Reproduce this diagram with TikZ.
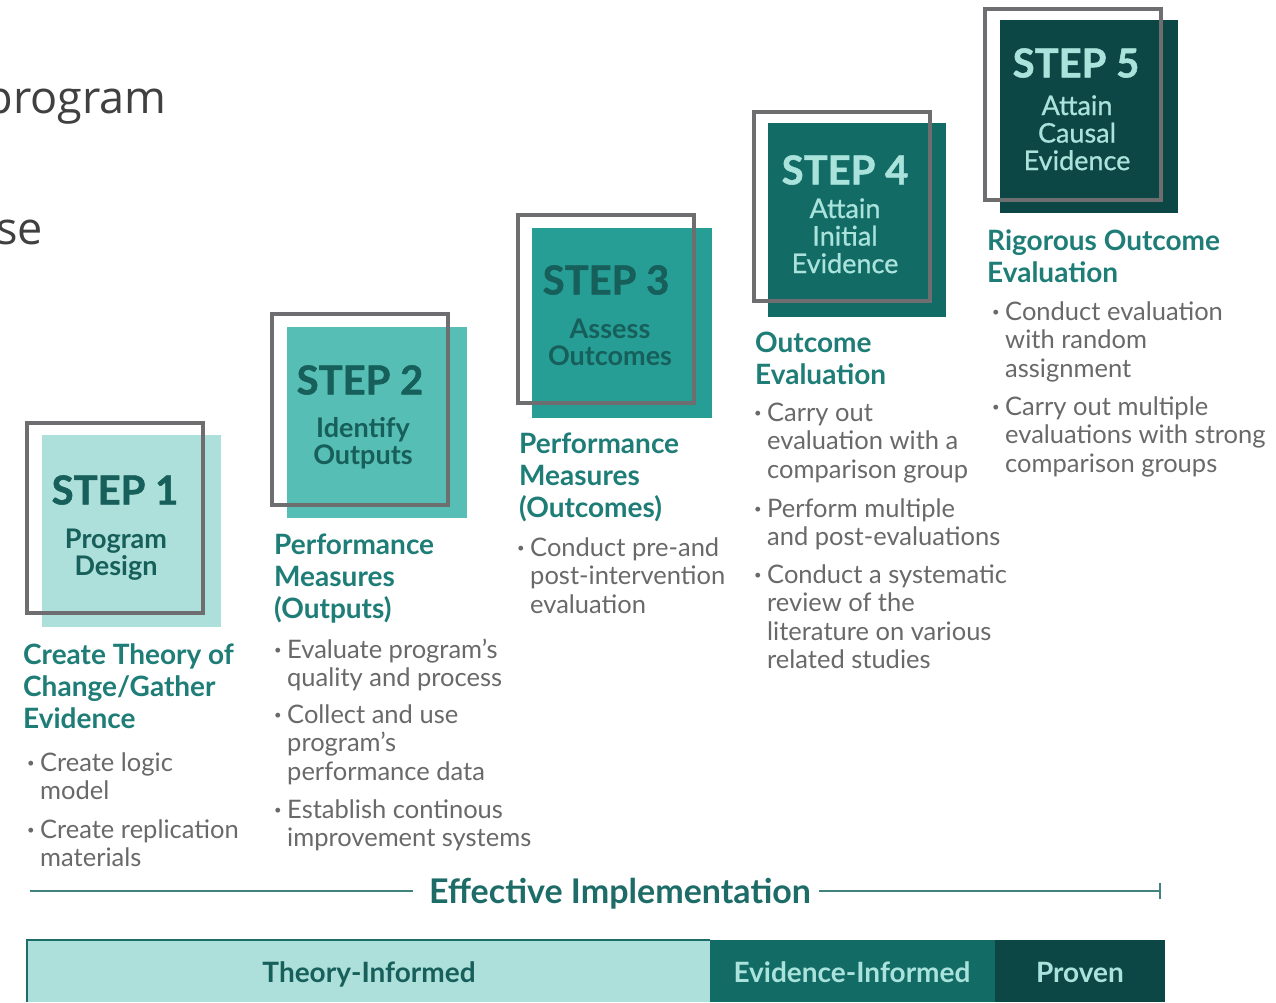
\documentclass[tikz,border=0pt]{standalone}
\usepackage{fontspec}
\setmainfont{Lato}
\newfontfamily\osans{Open Sans}
\newfontfamily\titlefont{Lato}[BoldFeatures={FakeBold=1.2}]
\newfontfamily\subfont{Lato}[FakeBold=0.8]
\definecolor{cA}{RGB}{173,223,219}
\definecolor{cB}{RGB}{87,190,182}
\definecolor{cC}{RGB}{38,158,150}
\definecolor{cD}{RGB}{19,107,102}
\definecolor{cE}{RGB}{13,71,69}
\definecolor{framegray}{RGB}{110,110,112}
\definecolor{darktxt}{RGB}{22,95,90}
\definecolor{lighttxt}{RGB}{170,226,220}
\definecolor{headtxt}{RGB}{30,125,118}
\definecolor{bodytxt}{RGB}{105,105,105}
\definecolor{efftxt}{RGB}{30,108,103}
\definecolor{toptxt}{RGB}{64,64,64}
\newcommand{\bitem}[1]{\begin{tabular}[t]{@{}p{13pt}@{}l@{}}\raisebox{4pt}{\fontsize{13}{13}\selectfont\textbullet}&#1\end{tabular}}
\newcommand{\tleft}[1]{\begin{tabular}[t]{@{}l@{}}#1\end{tabular}}
\newcommand{\tcent}[1]{\begin{tabular}[t]{@{}c@{}}#1\end{tabular}}
\begin{document}
\begin{tikzpicture}[x=1pt,y=-1pt,
  frame/.style={draw=framegray,line width=4.5pt},
  steptitle/.style={inner sep=0pt,font=\titlefont\fontsize{40}{40}\selectfont\bfseries},
  stepsub/.style={inner sep=0pt,anchor=base,font=\fontsize{27}{26}\selectfont\bfseries},
  stepsubl/.style={inner sep=0pt,anchor=base,font=\subfont\fontsize{27}{25.5}\selectfont},
  heading/.style={inner sep=0pt,anchor=base west,text=headtxt,font=\fontsize{28}{32}\selectfont\bfseries},
  bullets/.style={inner sep=0pt,anchor=base west,text=bodytxt,font=\fontsize{25.5}{28.5}\selectfont},
  bartxt/.style={inner sep=0pt,anchor=base,font=\fontsize{28}{28}\selectfont\bfseries},
  effline/.style={draw=efftxt!85,line width=2pt}]
\useasboundingbox (0,0) rectangle (1276,1002);
\fill[white] (0,0) rectangle (1276,1002);
% top-left text fragments
\node[inner sep=0pt,anchor=base east,text=toptxt,font=\osans\fontsize{45}{45}\selectfont] (tp1) at (167,113) {program};
\node[inner sep=0pt,anchor=base east,text=toptxt,font=\osans\fontsize{45}{45}\selectfont] (tp2) at (43,244) {se};
% STEP 1
\fill[cA] (42,435) rectangle (221,627);
\draw[frame] (27,423) rectangle (203,613);
\node[steptitle,text=darktxt] (s1t) at (115,490) {STEP 1};
\node[stepsub,text=darktxt] (s1s) at (116,548) {\tcent{Program\\Design}};
% STEP 2
\fill[cB] (287,327) rectangle (467,518);
\draw[frame] (272,314) rectangle (448,505);
\node[steptitle,text=darktxt] (s2t) at (360,380) {STEP 2};
\node[stepsub,text=darktxt] (s2s) at (363,437) {\tcent{Identify\\Outputs}};
% STEP 3
\fill[cC] (532,228) rectangle (712,418);
\draw[frame] (518,215) rectangle (694,403);
\node[steptitle,text=darktxt] (s3t) at (606,280) {STEP 3};
\node[stepsub,text=darktxt] (s3s) at (610,338) {\tcent{Assess\\Outcomes}};
% STEP 4
\fill[cD] (768,123) rectangle (946,317);
\draw[frame] (754,112) rectangle (930,301);
\node[steptitle,text=lighttxt] (s4t) at (845,170) {STEP 4};
\node[stepsubl,text=lighttxt] (s4s) at (845,218) {\tcent{Attain\\Initial\\Evidence}};
% STEP 5
\fill[cE] (1000,20) rectangle (1178,213);
\draw[frame] (985,9) rectangle (1161,200);
\node[steptitle,text=lighttxt] (s5t) at (1076,63) {STEP 5};
\node[stepsubl,text=lighttxt] (s5s) at (1077,115) {\tcent{Attain\\Causal\\Evidence}};
% headings
\node[heading] (h1) at (23,664) {\tleft{Create Theory of\\Change/Gather\\Evidence}};
\node[heading] (h2) at (274,554) {\tleft{Performance\\Measures\\(Outputs)}};
\node[heading] (h3) at (519,453) {\tleft{Performance\\Measures\\(Outcomes)}};
\node[heading] (h4) at (755,352) {\tleft{Outcome\\Evaluation}};
\node[heading] (h5) at (987,250) {\tleft{Rigorous Outcome\\Evaluation}};
% bullets
\node[bullets] (b11) at (27,771) {\bitem{Create logic\\ & model}};
\node[bullets] (b12) at (27,838) {\bitem{Create replication\\ & materials}};
\node[bullets] (b21) at (274,658) {\bitem{Evaluate program’s\\ & quality and process}};
\node[bullets] (b22) at (274,723) {\bitem{Collect and use\\ & program’s\\ & performance data}};
\node[bullets] (b23) at (274,818) {\bitem{Establish continous\\ & improvement systems}};
\node[bullets] (b31) at (517,556) {\bitem{Conduct pre-and\\ & post-intervention\\ & evaluation}};
\node[bullets] (b41) at (754,421) {\bitem{Carry out\\ & evaluation with a\\ & comparison group}};
\node[bullets] (b42) at (754,517) {\bitem{Perform multiple\\ & and post-evaluations}};
\node[bullets] (b43) at (754,583) {\bitem{Conduct a systematic\\ & review of the\\ & literature on various\\ & related studies}};
\node[bullets] (b51) at (992,320) {\bitem{Conduct evaluation\\ & with random\\ & assignment}};
\node[bullets] (b52) at (992,415) {\bitem{Carry out multiple\\ & evaluations with strong\\ & comparison groups}};
% effective implementation
\node[inner sep=0pt,anchor=base,text=efftxt,font=\fontsize{34}{34}\selectfont\bfseries] (eff) at (620,903) {Effective Implementation};
\coordinate (lstart) at (30,891);
\coordinate (lend) at (1160,891);
\draw[effline] (lstart) -- ([xshift=-16pt]eff.west |- lstart);
\draw[effline] ([xshift=8pt]eff.east |- lend) -- (lend);
\draw[effline] ([yshift=-8pt]lend) -- ([yshift=8pt]lend);
% bottom bar
\fill[cA] (27,940) rectangle (710,1002);
\fill[cD] (710,940) rectangle (995,1002);
\fill[cE] (995,940) rectangle (1165,1002);
\draw[efftxt,line width=2pt] (27,1002) -- (27,940) -- (710,940);
\node[bartxt,text=darktxt] (bt1) at (369,982) {Theory-Informed};
\node[bartxt,text=lighttxt] (bt2) at (852,982) {Evidence-Informed};
\node[bartxt,text=lighttxt] (bt3) at (1080,982) {Proven};
\end{tikzpicture}
\end{document}
